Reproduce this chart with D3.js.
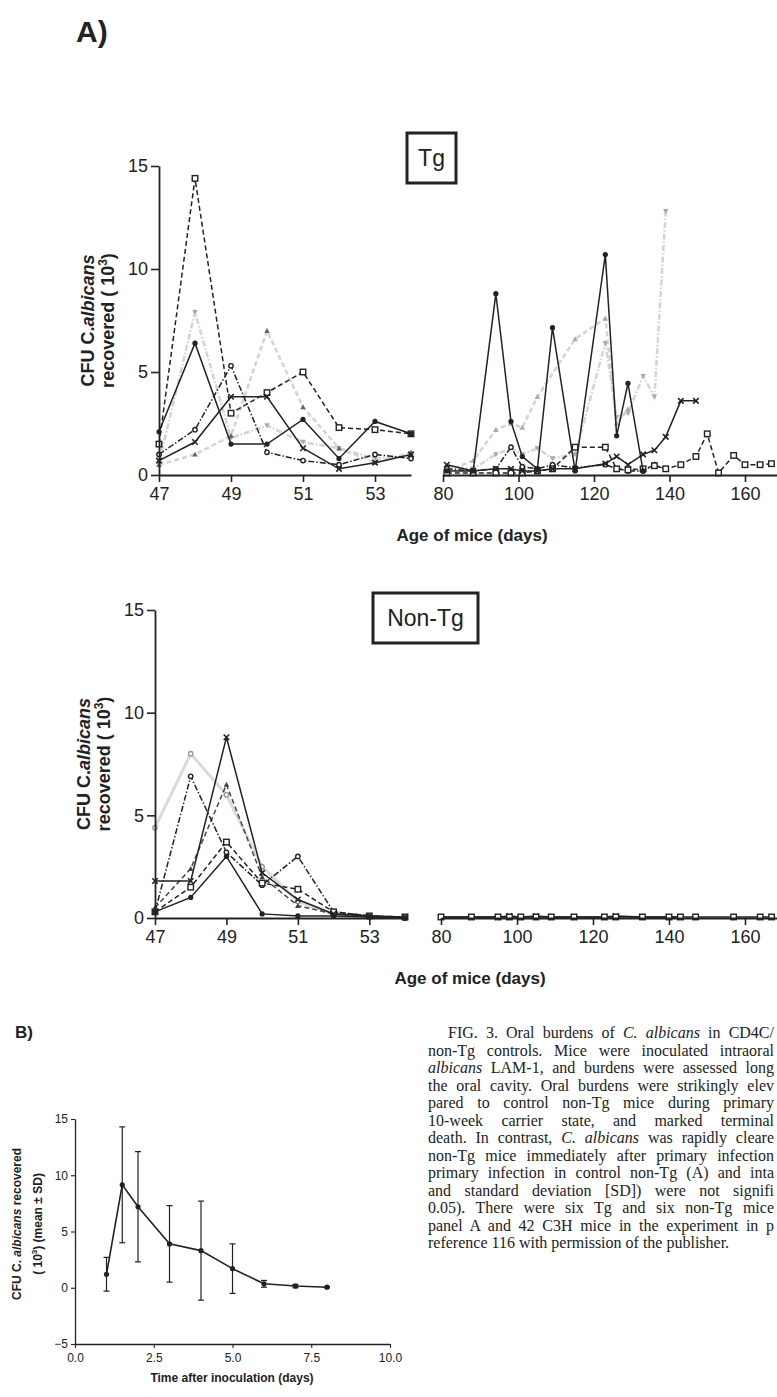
<!DOCTYPE html>
<html><head><meta charset="utf-8">
<script src="https://cdn.jsdelivr.net/npm/d3@7"></script>
<style>
html,body{margin:0;padding:0;background:#fff;overflow:hidden;}
svg{display:block;}
</style></head><body>
<svg id="fig" width="777" height="1397"></svg>
<script>
// ---------- axis ticks ----------
const earlyTicks = [47, 49, 51, 53];
const lateTicks = [80, 100, 120, 140, 160];
const cfuTicks = [0, 5, 10, 15];

// ---------- panel A, Tg mice ----------
const earlyDays = [47, 48, 49, 50, 51, 52, 53, 54];
const tgDotEarly    = [2.1, 6.4, 1.5, 1.5, 2.7, 0.8, 2.6, 2.0];
const tgSquareEarly = [1.5, 14.4, 3.0, 4.0, 5.0, 2.3, 2.2, 2.0];
const tgCrossEarly  = [0.7, 1.6, 3.8, 3.8, 1.3, 0.3, 0.6, 1.0];
const tgRingEarly   = [1.0, 2.2, 5.3, 1.1, 0.7, 0.5, 1.0, 0.8];
const tgTriEarly    = [0.5, 1.0, 1.9, 7.0, 3.3, 1.3, 0.6, 1.1];
const tgInvEarly    = [0.6, 7.9, 1.8, 2.4, 1.6, 1.3, 0.8, 0.9];

const tgLateDays = [81, 88, 94, 98, 101, 105, 109, 115, 123, 126, 129, 133, 136, 139, 143, 147, 150, 153, 157, 160, 164, 167];
const tgDotLate    = [0.2, 0.2, 8.8, 2.6, 0.9, 0.3, 7.15, 0.2, 10.7, 1.9, 4.45, 0.2, null, null, null, null, null, null, null, null, null, null];
const tgSquareLate = [0.1, 0.1, 0.1, 0.1, 0.1, 0.2, 0.3, 1.35, 1.35, 0.3, 0.25, 0.3, 0.45, 0.3, 0.5, 0.9, 2.0, 0.1, 0.95, 0.5, 0.5, 0.55];
const tgCrossLate  = [0.5, 0.2, 0.3, 0.3, 0.2, 0.2, 0.3, 0.3, 0.55, 0.9, 0.5, 1.0, 1.2, 1.85, 3.6, 3.6, null, null, null, null, null, null];
const tgRingLate   = [0.3, 0.2, 0.3, 1.35, 0.4, 0.3, 0.5, 0.35, 0.5, 0.3, 0.2, 0.2, 0.5, 0.3, null, null, null, null, null, null, null, null];
const tgTriLate    = [0.2, 0.7, 2.2, 2.5, 2.3, 3.8, null, 6.6, 7.6, 2.5, 3.2, null, null, null, null, null, null, null, null, null, null, null];
const tgInvLate    = [0.4, 0.3, 1.0, 1.3, 1.0, 1.3, 0.8, 1.0, 6.4, 2.8, 3.0, 4.8, 3.8, 12.8, null, null, null, null, null, null, null, null];

// ---------- panel A, non-Tg mice ----------
const ntDotEarly    = [0.3, 1.0, 3.0, 0.2, 0.1, 0.1, 0.05, 0.0];
const ntSquareEarly = [0.3, 1.5, 3.7, 1.7, 1.4, 0.3, 0.1, 0.05];
const ntCrossEarly  = [1.8, 1.8, 8.8, 2.2, 0.9, 0.2, 0.1, 0.05];
const ntRingEarly   = [0.3, 6.9, 3.2, 1.6, 3.0, 0.3, 0.1, 0.0];
const ntTriEarly    = [0.5, 2.4, 6.5, 2.0, 0.6, 0.2, 0.1, 0.0];
const ntGreyEarly   = [4.4, 8.0, 6.0, 2.5, 0.8, 0.2, 0.1, 0.0];

const ntLateDays = [80, 88, 95, 98, 101, 105, 109, 115, 123, 126, 133, 140, 143, 147, 157, 164, 167];
const ntSquareLate = [0.05, 0.05, 0.05, 0.05, 0.05, 0.05, 0.05, 0.05, 0.05, 0.05, 0.05, 0.05, 0.05, 0.05, 0.05, 0.05, 0.05];
const ntCrossLate  = [0.05, 0.05, 0.05, 0.1, 0.05, 0.1, 0.05, 0.05, 0.05, 0.1, 0.05, 0.05, 0.05, null, null, null, null];

// ---------- panel B ----------
const bDays = [1, 1.5, 2, 3, 4, 5, 6, 7, 8];
const bMean = [1.2, 9.15, 7.2, 3.9, 3.3, 1.7, 0.35, 0.15, 0.05];
const bSD   = [1.5, 5.15, 4.9, 3.4, 4.4, 2.2, 0.3, 0.15, 0.05];
const bYTicks = [-5, 0, 5, 10, 15];
const bXTicks = [0, 2.5, 5, 7.5, 10];

// ---------- caption ----------
const captionLines = [
  [["FIG. 3. Oral burdens of ", 0], ["C. albicans", 1], [" in CD4C/", 0]],
  [["non-Tg controls. Mice were inoculated intraoral", 0]],
  [["albicans", 1], [" LAM-1, and burdens were assessed long", 0]],
  [["the oral cavity. Oral burdens were strikingly elev", 0]],
  [["pared to control non-Tg mice during primary", 0]],
  [["10-week carrier state, and marked terminal", 0]],
  [["death. In contrast, ", 0], ["C. albicans", 1], [" was rapidly cleare", 0]],
  [["non-Tg mice immediately after primary infection", 0]],
  [["primary infection in control non-Tg (A) and inta", 0]],
  [["and standard deviation [SD]) were not signifi", 0]],
  [["0.05). There were six Tg and six non-Tg mice", 0]],
  [["panel A and 42 C3H mice in the experiment in p", 0]],
  [["reference 116 with permission of the publisher.", 0]]
];

const svg = d3.select("#fig");
const SANS = "'Liberation Sans', Arial, sans-serif";
const SERIF = "'Liberation Serif', 'Times New Roman', serif";
const GREY = "#cdcdcd";

function drawMarker(g, type, cx, cy, color, s) {
  s = s || 5.5;
  const h = s / 2;
  if (type === "dot") {
    g.append("circle").attr("cx", cx).attr("cy", cy).attr("r", h * 0.95).attr("fill", color);
  } else if (type === "ring") {
    g.append("circle").attr("cx", cx).attr("cy", cy).attr("r", h * 0.8)
      .attr("fill", "#fff").attr("stroke", color).attr("stroke-width", 1.4);
  } else if (type === "square") {
    g.append("rect").attr("x", cx - h).attr("y", cy - h).attr("width", s).attr("height", s)
      .attr("fill", "#fff").attr("stroke", color).attr("stroke-width", 1.4);
  } else if (type === "cross") {
    g.append("path").attr("d", `M${cx - h},${cy - h}L${cx + h},${cy + h}M${cx - h},${cy + h}L${cx + h},${cy - h}`)
      .attr("stroke", color).attr("stroke-width", 1.6);
  } else if (type === "tri") {
    g.append("path").attr("d", `M${cx},${cy - h}L${cx + h},${cy + h * 0.8}L${cx - h},${cy + h * 0.8}Z`).attr("fill", color);
  } else if (type === "itri") {
    g.append("path").attr("d", `M${cx},${cy + h}L${cx + h},${cy - h * 0.8}L${cx - h},${cy - h * 0.8}Z`).attr("fill", color);
  }
}

function styleAxis(sel, fs) {
  sel.selectAll("path.domain").attr("stroke", "#222").attr("stroke-width", 1.8);
  sel.selectAll(".tick line").attr("stroke", "#222").attr("stroke-width", 1.6);
  sel.selectAll(".tick text").attr("fill", "#222").attr("font-family", SANS).attr("font-size", fs);
}

function drawSeries(g, xs, days, vals, y, st) {
  const pts = days.map((d, i) => [d, vals[i]]).filter(p => p[1] !== null);
  const line = d3.line().x(p => xs(p[0])).y(p => y(p[1]));
  g.append("path").attr("d", line(pts)).attr("fill", "none")
    .attr("stroke", st.color).attr("stroke-width", st.width || 1.5)
    .attr("stroke-dasharray", st.dash || null)
    .attr("stroke-opacity", st.opacity || 1);
  pts.forEach(p => drawMarker(g, st.marker, xs(p[0]), y(p[1]), st.mcolor || st.color, st.size));
}

function drawPanelA(cfg) {
  const g = svg.append("g");
  const y = d3.scaleLinear().domain([0, 15]).range([cfg.y0, cfg.y15]);
  const xa = d3.scaleLinear().domain([47, 54]).range([cfg.xa0, cfg.xa1]);
  const xb = d3.scaleLinear().domain([80, 170]).range([cfg.xb0, cfg.xb0 + 90 * cfg.kb]);

  // series: left (primary infection) and right (carrier state)
  const gl = g.append("g"), gr = g.append("g");
  cfg.early.forEach(s => drawSeries(gl, xa, earlyDays, s.vals, y, s));
  cfg.late.forEach(s => drawSeries(gr, xb, cfg.lateDays, s.vals, y, s));

  // axes
  const fmt = d3.format("d");
  const ay = g.append("g").attr("transform", `translate(${cfg.xa0},0)`)
    .call(d3.axisLeft(y).tickValues(cfuTicks).tickFormat(fmt).tickSize(8).tickSizeOuter(0).tickPadding(3));
  styleAxis(ay, 18);
  const axL = g.append("g").attr("transform", `translate(0,${cfg.y0})`)
    .call(d3.axisBottom(xa).tickValues(earlyTicks).tickFormat(fmt).tickSize(7).tickSizeOuter(0).tickPadding(5));
  styleAxis(axL, 18);
  const axR = g.append("g").attr("transform", `translate(0,${cfg.y0})`)
    .call(d3.axisBottom(xb).tickValues(lateTicks).tickFormat(fmt).tickSize(7).tickSizeOuter(0).tickPadding(5));
  styleAxis(axR, 18);

  // axis titles
  g.append("text").attr("x", cfg.titleX).attr("y", cfg.y0 + 66).attr("text-anchor", "middle")
    .attr("font-family", SANS).attr("font-weight", "bold").attr("font-size", 17).attr("fill", "#222")
    .text("Age of mice (days)");
  const yc = (cfg.y0 + cfg.y15) / 2;
  const t1 = g.append("text").attr("transform", `translate(${cfg.labX1},${yc}) rotate(-90)`)
    .attr("text-anchor", "middle").attr("font-family", SANS).attr("font-weight", "bold")
    .attr("font-size", 18).attr("fill", "#222");
  t1.append("tspan").text("CFU C.");
  t1.append("tspan").attr("font-style", "italic").text("albicans");
  const t2 = g.append("text").attr("transform", `translate(${cfg.labX2},${yc}) rotate(-90)`)
    .attr("text-anchor", "middle").attr("font-family", SANS).attr("font-weight", "bold")
    .attr("font-size", 18).attr("fill", "#222");
  t2.append("tspan").text("recovered ( 10");
  t2.append("tspan").attr("font-size", 12).attr("dy", -7).text("3");
  t2.append("tspan").attr("dy", 7).text(")");

  // group box label
  g.append("rect").attr("x", cfg.box[0]).attr("y", cfg.box[1]).attr("width", cfg.box[2]).attr("height", cfg.box[3])
    .attr("fill", "#fff").attr("stroke", "#222").attr("stroke-width", 3);
  g.append("text").attr("x", cfg.box[0] + cfg.box[2] / 2).attr("y", cfg.box[1] + cfg.box[3] / 2 + 8)
    .attr("text-anchor", "middle").attr("font-family", SANS).attr("font-size", 23).attr("fill", "#222")
    .text(cfg.name);
}

const DASH = "5,3", DASHDOT = "6,2,1.5,2";

svg.append("text").attr("x", 76).attr("y", 42).attr("font-family", SANS).attr("font-weight", "bold")
  .attr("font-size", 30).attr("fill", "#222").text("A)");

drawPanelA({
  name: "Tg", y0: 475, y15: 166, xa0: 159, xa1: 411, xb0: 443, kb: 3.775,
  titleX: 472, labX1: 94, labX2: 114, box: [407, 133, 49, 50],
  lateDays: tgLateDays,
  early: [
    { vals: tgInvEarly, marker: "itri", color: GREY, mcolor: "#aaa", dash: DASHDOT, width: 2.5, opacity: 0.85 },
    { vals: tgTriEarly, marker: "tri", color: GREY, mcolor: "#666", dash: DASH, width: 2.5, opacity: 0.85 },
    { vals: tgRingEarly, marker: "ring", color: "#222", dash: DASHDOT },
    { vals: tgSquareEarly, marker: "square", color: "#222", dash: DASH },
    { vals: tgCrossEarly, marker: "cross", color: "#222" },
    { vals: tgDotEarly, marker: "dot", color: "#222" }
  ],
  late: [
    { vals: tgInvLate, marker: "itri", color: GREY, mcolor: "#aaa", dash: DASHDOT, width: 2.5, opacity: 0.85 },
    { vals: tgTriLate, marker: "tri", color: GREY, mcolor: "#aaa", dash: DASH, width: 2.5, opacity: 0.85 },
    { vals: tgRingLate, marker: "ring", color: "#222", dash: DASHDOT },
    { vals: tgSquareLate, marker: "square", color: "#222", dash: DASH },
    { vals: tgCrossLate, marker: "cross", color: "#222" },
    { vals: tgDotLate, marker: "dot", color: "#222" }
  ]
});

drawPanelA({
  name: "Non-Tg", y0: 918, y15: 610, xa0: 155, xa1: 405, xb0: 441, kb: 3.8,
  titleX: 470, labX1: 90, labX2: 110, box: [373, 593, 105, 50],
  lateDays: ntLateDays,
  early: [
    { vals: ntGreyEarly, marker: "ring", color: GREY, mcolor: "#999", dash: null, width: 3, opacity: 0.75 },
    { vals: ntTriEarly, marker: "tri", color: "#444", dash: DASH },
    { vals: ntRingEarly, marker: "ring", color: "#222", dash: DASHDOT },
    { vals: ntSquareEarly, marker: "square", color: "#222", dash: DASH },
    { vals: ntCrossEarly, marker: "cross", color: "#222" },
    { vals: ntDotEarly, marker: "dot", color: "#222" }
  ],
  late: [
    { vals: ntCrossLate, marker: "cross", color: "#222" },
    { vals: ntSquareLate, marker: "square", color: "#222" }
  ]
});

// ---------- panel B: mean ± SD ----------
(function () {
  const g = svg.append("g");
  const x = d3.scaleLinear().domain([0, 10]).range([75, 390]);
  const y = d3.scaleLinear().domain([-5, 15]).range([1344, 1119]);

  const ax = g.append("g").attr("transform", "translate(0,1344)")
    .call(d3.axisBottom(x).tickValues(bXTicks).tickFormat(d3.format(".1f")).tickSize(4).tickSizeOuter(0).tickPadding(5));
  const ay = g.append("g").attr("transform", "translate(75,0)")
    .call(d3.axisLeft(y).tickValues(bYTicks).tickSize(4).tickSizeOuter(0).tickPadding(3));
  [ax, ay].forEach(a => {
    a.selectAll("path.domain").attr("stroke", "#222").attr("stroke-width", 1.3);
    a.selectAll(".tick line").attr("stroke", "#222").attr("stroke-width", 1.1);
    a.selectAll(".tick text").attr("fill", "#222").attr("font-family", SANS).attr("font-size", 12);
  });

  // error bars
  bDays.forEach((d, i) => {
    const cx = x(d), top = y(bMean[i] + bSD[i]), bot = y(bMean[i] - bSD[i]);
    g.append("line").attr("x1", cx).attr("x2", cx).attr("y1", top).attr("y2", bot).attr("stroke", "#222").attr("stroke-width", 1.2);
    g.append("line").attr("x1", cx - 3).attr("x2", cx + 3).attr("y1", top).attr("y2", top).attr("stroke", "#222").attr("stroke-width", 1.2);
    g.append("line").attr("x1", cx - 3).attr("x2", cx + 3).attr("y1", bot).attr("y2", bot).attr("stroke", "#222").attr("stroke-width", 1.2);
  });
  const line = d3.line().x(d => x(d)).y((d, i) => y(bMean[i]));
  g.append("path").attr("d", line(bDays)).attr("fill", "none").attr("stroke", "#222").attr("stroke-width", 1.6);
  bDays.forEach((d, i) => g.append("circle").attr("cx", x(d)).attr("cy", y(bMean[i])).attr("r", 2.6).attr("fill", "#222"));

  g.append("text").attr("x", 232).attr("y", 1382).attr("text-anchor", "middle").attr("font-family", SANS)
    .attr("font-weight", "bold").attr("font-size", 12).attr("fill", "#222").text("Time after inoculation (days)");
  const l1 = g.append("text").attr("transform", "translate(21,1224) rotate(-90)").attr("text-anchor", "middle")
    .attr("font-family", SANS).attr("font-weight", "bold").attr("font-size", 12).attr("fill", "#222");
  l1.append("tspan").text("CFU C. ");
  l1.append("tspan").attr("font-style", "italic").text("albicans");
  l1.append("tspan").text(" recovered");
  const l2 = g.append("text").attr("transform", "translate(42,1224) rotate(-90)").attr("text-anchor", "middle")
    .attr("font-family", SANS).attr("font-weight", "bold").attr("font-size", 12).attr("fill", "#222");
  l2.append("tspan").text("( 10");
  l2.append("tspan").attr("font-size", 8).attr("dy", -5).text("3");
  l2.append("tspan").attr("dy", 5).text(") (mean \u00B1 SD)");

  svg.append("text").attr("x", 15).attr("y", 1038).attr("font-family", SANS).attr("font-weight", "bold")
    .attr("font-size", 17).attr("fill", "#222").text("B)");
})();

// ---------- figure legend text (justified column) ----------
captionLines.forEach((parts, i) => {
  const x0 = i === 0 ? 448 : 428;
  const t = svg.append("text").attr("x", x0).attr("y", 1038 + i * 17.5)
    .attr("font-family", SERIF).attr("font-size", 16).attr("fill", "#222");
  parts.forEach(p => t.append("tspan").attr("font-style", p[1] ? "italic" : "normal").text(p[0]));
  if (i < captionLines.length - 1) {
    const w = t.node().getComputedTextLength();
    const gaps = parts.map(p => p[0]).join("").split(" ").length - 1;
    const extra = (774 - x0 - w) / Math.max(gaps, 1);
    t.attr("word-spacing", extra);
  }
});
</script>
</body></html>
